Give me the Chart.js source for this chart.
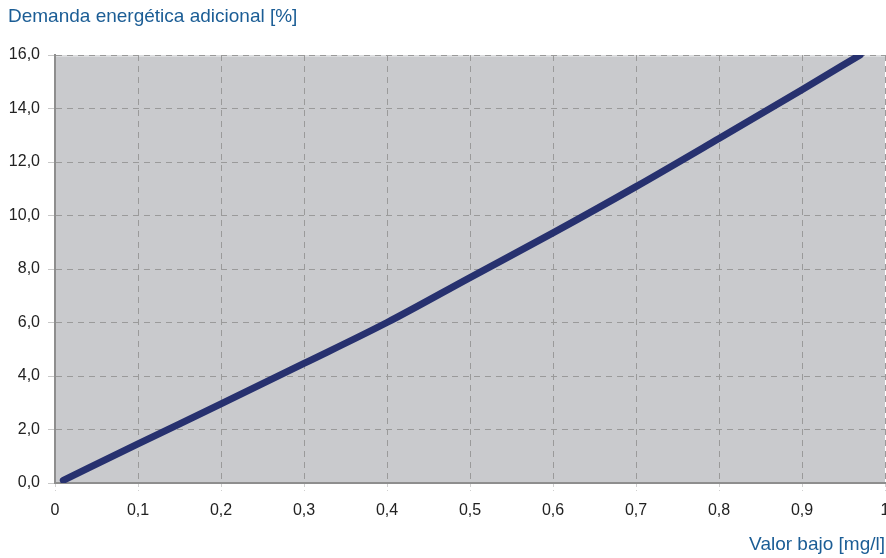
<!DOCTYPE html>
<html>
<head>
<meta charset="utf-8">
<script src="https://cdn.jsdelivr.net/npm/chart.js@4"></script>
<style>
html,body{margin:0;padding:0;background:#fff;}
#wrap{width:886px;height:558px;position:relative;}
</style>
</head>
<body>
<div id="wrap"><canvas id="c" width="886" height="558"></canvas></div>
<script>
const chartTitle = "Demanda energética adicional [%]";
const xAxisTitle = "Valor bajo [mg/l]";
const xValues = [0.01, 0.1, 0.2, 0.3, 0.4, 0.5, 0.6, 0.7, 0.8, 0.9, 0.97];
const yValues = [0.1, 1.46, 2.96, 4.47, 6.0, 7.68, 9.35, 11.08, 12.88, 14.7, 16.0];
const xTickValues = [0, 0.1, 0.2, 0.3, 0.4, 0.5, 0.6, 0.7, 0.8, 0.9, 1];
const yTickValues = [0, 2, 4, 6, 8, 10, 12, 14, 16];

const points = xValues.map((x, i) => ({x: x, y: yValues[i]}));

const bgPlugin = {
  id: 'plotBg',
  beforeDraw(chart) {
    const {ctx, chartArea: a} = chart;
    ctx.save();
    ctx.fillStyle = '#c9cacd';
    ctx.fillRect(a.left, a.top, a.right - a.left, a.bottom - a.top);
    ctx.fillStyle = 'rgba(225,225,227,0.8)';
    ctx.fillRect(a.left, a.top, a.right - a.left, 2);
    ctx.restore();
  }
};

new Chart(document.getElementById('c'), {
  type: 'scatter',
  data: {
    datasets: [{
      data: points,
      showLine: true,
      borderColor: '#27316f',
      backgroundColor: '#27316f',
      borderWidth: 7,
      borderCapStyle: 'round',
      borderJoinStyle: 'round',
      pointRadius: 0,
      cubicInterpolationMode: 'monotone',
      clip: 0
    }]
  },
  options: {
    responsive: false,
    animation: false,
    layout: {padding: {left: 8, right: 1, top: 0, bottom: 0}},
    plugins: {
      legend: {display: false},
      tooltip: {enabled: false},
      title: {
        display: true,
        text: chartTitle,
        align: 'start',
        color: '#1b5d95',
        font: {family: 'Liberation Sans', size: 19, weight: 'normal'},
        padding: {top: 5, bottom: 27.2}
      }
    },
    scales: {
      x: {
        type: 'linear',
        min: 0, max: 1,
        afterBuildTicks(s) { s.ticks = xTickValues.map(v => ({value: v})); },
        afterFit(s) { s.height = 75; s.paddingRight = 0; s.paddingLeft = 0; },
        ticks: {
          color: '#222',
          font: {family: 'Liberation Sans', size: 16},
          padding: 10,
          maxRotation: 0,
          autoSkip: false,
          callback: v => v === 0 ? '0' : (v === 1 ? '1' : v.toFixed(1).replace('.', ','))
        },
        grid: {color: '#9a9a9a', lineWidth: 1, drawTicks: true, tickLength: 8, tickColor: '#d0d0d0', tickBorderDash: [3,3]},
        border: {display: true, color: '#8e8e8e', width: 2, dash: [6,5]},
        title: {
          display: true,
          text: xAxisTitle,
          align: 'end',
          color: '#1b5d95',
          font: {family: 'Liberation Sans', size: 19, weight: 'normal'},
          padding: {top: 0, bottom: 2}
        }
      },
      y: {
        type: 'linear',
        min: 0, max: 16,
        afterBuildTicks(s) { s.ticks = yTickValues.map(v => ({value: v})); },
        afterFit(s) { s.width = 47; },
        ticks: {
          color: '#222',
          font: {family: 'Liberation Sans', size: 16},
          padding: 8,
          callback: v => v.toFixed(1).replace('.', ',')
        },
        grid: {color: '#9a9a9a', lineWidth: 1, drawTicks: true, tickLength: 7, tickColor: '#c8c8c8'},
        border: {display: true, color: '#8e8e8e', width: 2, dash: [6,5]}
      }
    }
  },
  plugins: [bgPlugin]
});
</script>
</body>
</html>
